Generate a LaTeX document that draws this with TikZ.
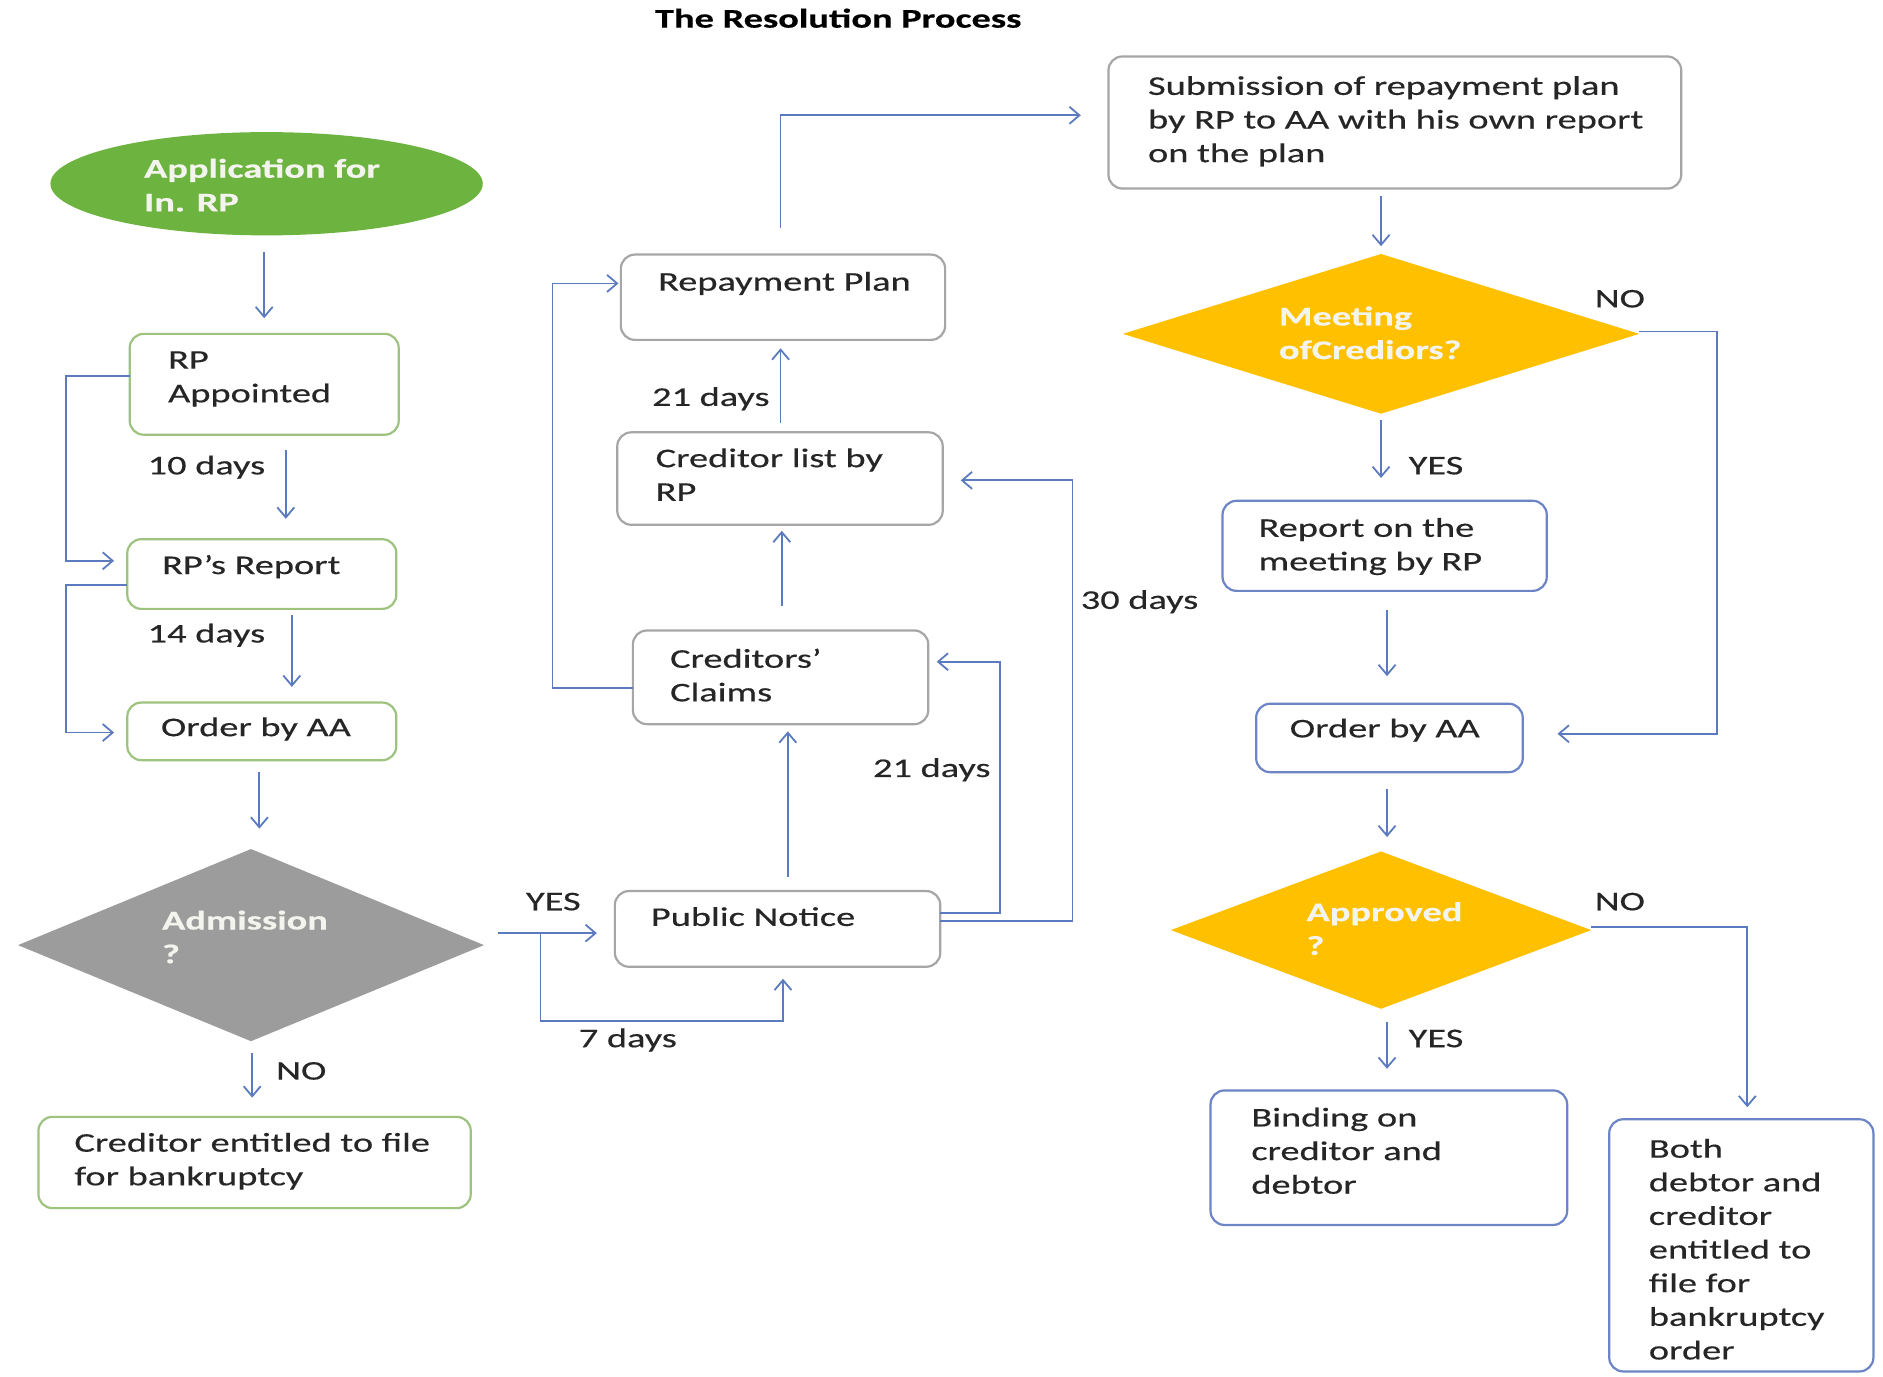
\documentclass[tikz,border=0pt]{standalone}
\usepackage{fontspec}
\setmainfont{Carlito}[FakeStretch=1.42,FakeBold=0.4]
\usetikzlibrary{arrows.meta,shapes.geometric,calc}
\definecolor{arrc}{HTML}{5B7BBE}
\definecolor{greenb}{HTML}{9DC37F}
\definecolor{grayb}{HTML}{A6A6A6}
\definecolor{blueb}{HTML}{6D84C6}
\definecolor{ellfill}{HTML}{6CB33F}
\definecolor{yel}{HTML}{FFC000}
\definecolor{dgray}{HTML}{9C9C9C}
\definecolor{wt}{HTML}{F4F4EE}
\begin{document}
\begin{tikzpicture}[x=0.6pt,y=-0.6pt,
  every node/.style={inner sep=0pt,outer sep=0pt},
  bx/.style={draw,rounded corners=7pt,line width=1.1pt,fill=white},
  gbox/.style={bx,draw=greenb},
  mbox/.style={bx,draw=grayb},
  bbox/.style={bx,draw=blueb},
  txt/.style={anchor=base west,font=\fontsize{13.5}{16.8}\selectfont,text=black!85},
  wtxt/.style={txt,font=\fontsize{13.5}{16.8}\selectfont\bfseries,text=wt},
  arr/.style={draw=arrc,line width=0.9pt,-{Straight Barb[length=5pt,width=8.5pt]}},
  ln/.style={draw=arrc,line width=0.9pt}
]
\newcommand\tl[1]{\begin{tabular}[t]{@{}l@{}}#1\end{tabular}}
\renewcommand\arraystretch{1}
\useasboundingbox (0,0) rectangle (1568,1146);
\fill[white] (0,0) rectangle (1568,1146);

% title
\node[font=\fontsize{13.5}{15}\selectfont\bfseries,anchor=base] (title) at (698,23) {The Resolution Process};

% left column
\node[ellipse,fill=ellfill,minimum width=216pt,minimum height=51.6pt] (app) at (222,153) {};
\node[wtxt] (appt) at (120,148) {\tl{Application for\\In. RP}};
\node[gbox,minimum width=134.4pt,minimum height=50.4pt] (rpa) at (220,320) {};
\node[txt] (rpat) at (140,307) {\tl{RP\\Appointed}};
\node[gbox,minimum width=134.4pt,minimum height=34.8pt] (rpr) at (218,478) {};
\node[txt] (rprt) at (135,478) {RP’s Report};
\node[gbox,minimum width=134.4pt,minimum height=28.8pt] (oaa) at (218,609) {};
\node[txt] (oaat) at (134,613) {Order by AA};
\node[txt] (d10) at (123,395) {10 days};
\node[txt] (d14) at (123,535) {14 days};

\node[diamond,fill=dgray,minimum width=232.8pt,minimum height=96pt] (adm) at (209,787) {};
\node[wtxt] (admt) at (135,774) {\tl{Admission\\?}};
\node[gbox,minimum width=216pt,minimum height=45.6pt] (ceb) at (212,968) {};
\node[txt] (cebt) at (62,959) {\tl{Creditor entitled to file\\for bankruptcy}};
\node[txt] (no1) at (230,899) {NO};

% middle column
\node[mbox,minimum width=162.6pt,minimum height=37.8pt] (pn) at (647.5,773.5) {};
\node[txt] (pnt) at (542,771) {Public Notice};
\node[mbox,minimum width=147.6pt,minimum height=46.8pt] (cc) at (650,564) {};
\node[txt] (cct) at (558,556) {\tl{Creditors’\\Claims}};
\node[mbox,minimum width=162.6pt,minimum height=46.2pt] (cl) at (649.5,398.5) {};
\node[txt] (clt) at (546,389) {\tl{Creditor list by\\RP}};
\node[mbox,minimum width=162pt,minimum height=42.6pt] (rp) at (652,247.5) {};
\node[txt] (rpt) at (548,242) {Repayment Plan};
\node[txt] (yes1) at (438,758) {YES};
\node[txt] (d7) at (482,872) {7 days};
\node[txt] (d21b) at (727,647) {21 days};
\node[txt] (d30) at (900,507) {30 days};
\node[txt] (d21a) at (543,338) {21 days};

% right column
\node[mbox,minimum width=286.2pt,minimum height=66pt] (sub) at (1161.5,102) {};
\node[txt] (subt) at (956,79) {\tl{Submission of repayment plan\\by RP to AA with his own report\\on the plan}};
\node[diamond,fill=yel,minimum width=258pt,minimum height=79.8pt] (mtg) at (1150,278) {};
\node[wtxt] (mtgt) at (1065,271) {\tl{Meeting\\ofCrediors?}};
\node[txt] (no2) at (1328,256) {NO};
\node[txt] (yes2) at (1173,395) {YES};
\node[bbox,minimum width=162pt,minimum height=45pt] (rom) at (1153,454.5) {};
\node[txt] (romt) at (1048,447) {\tl{Report on the\\meeting by RP}};
\node[bbox,minimum width=133.2pt,minimum height=34.2pt] (oaa2) at (1157,614.5) {};
\node[txt] (oaa2t) at (1074,614) {Order by AA};
\node[diamond,fill=yel,minimum width=210pt,minimum height=78.6pt] (apr) at (1150,774.5) {};
\node[wtxt] (aprt) at (1088,767) {\tl{Approved\\?}};
\node[txt] (no3) at (1328,758) {NO};
\node[txt] (yes3) at (1173,872) {YES};
\node[bbox,minimum width=178.2pt,minimum height=67.2pt] (bind) at (1156.5,964) {};
\node[txt] (bindt) at (1042,938) {\tl{Binding on\\creditor and\\debtor}};
\node[bbox,minimum width=132pt,minimum height=126pt] (both) at (1450,1037) {};
\node[txt] (botht) at (1373,964) {\tl{Both\\debtor and\\creditor\\entitled to\\file for\\bankruptcy\\order}};

% connectors left
\draw[arr] ($(app.south)+(-2,14)$) -- ($(rpa.north)+(0,-13)$);
\draw[arr] ($(rpa.south)+(18,13)$) -- ($(rpr.north)+(20,-17)$);
\draw[arr] ($(rpr.south)+(25,5)$) -- ($(oaa.north)+(25,-13)$);
\draw[arr] ($(rpa.west)+(0,-7)$) -- ++(-53,0) |- ($(rpr.west)+(-11,-11)$);
\draw[arr] ($(rpr.west)+(0,9)$) -- ++(-51,0) |- ($(oaa.west)+(-11,1)$);
\draw[arr] ($(oaa.south)+(-2,10)$) -- ($(adm.north)+(7,-17)$);
\draw[arr] ($(adm.south)+(1,10)$) -- ($(ceb.north)+(-2,-16)$);
\draw[arr] ($(adm.east)+(12,-10)$) -- ($(pn.west)+(-15,3.5)$);
\draw[arr] ($(adm.east)+(47,-10)$) -- ++(0,73) -| ($(pn.south)+(4.5,10)$);

% connectors middle
\draw[arr] ($(pn.north)+(8.5,-12)$) -- ($(cc.south)+(6,6)$);
\draw[arr] ($(pn.east)+(0,-13.5)$) -- ++(50,0) |- ($(cc.east)+(7,-13)$);
\draw[arr] ($(pn.east)+(0,-6.5)$) -- ++(110,0) |- ($(cl.east)+(15,1.5)$);
\draw[arr] ($(cc.north)+(1,-20)$) -- ($(cl.south)+(1.5,5)$);
\draw[arr] ($(cc.west)+(0,9)$) -- ++(-67,0) |- ($(rp.west)+(-2,-11.5)$);
\draw[arr] ($(cl.north)+(0.5,-8)$) -- ($(rp.south)+(-2,7)$);
\draw[arr] ($(rp.north)+(-2,-22)$) |- ($(sub.west)+(-23,-6)$);

% connectors right
\draw[arr] ($(sub.south)+(-11.5,6)$) -- ($(mtg.north)+(0,-6.5)$);
\draw[arr] ($(mtg.south)+(0,5.5)$) -- ($(rom.north)+(-3,-19)$);
\draw[arr] ($(mtg.east)+(0,-2)$) -- ++(65,0) |- ($(oaa2.east)+(29,-3.5)$);
\draw[arr] ($(rom.south)+(2,16)$) -- ($(oaa2.north)+(-2,-23)$);
\draw[arr] ($(oaa2.south)+(-2,14)$) -- ($(apr.north)+(5,-12)$);
\draw[arr] ($(apr.south)+(5,11)$) -- ($(bind.north)+(-1.5,-18)$);
\draw[arr] ($(apr.east)+(0,-2.5)$) -| ($(both.north)+(5,-10)$);
\end{tikzpicture}
\end{document}
